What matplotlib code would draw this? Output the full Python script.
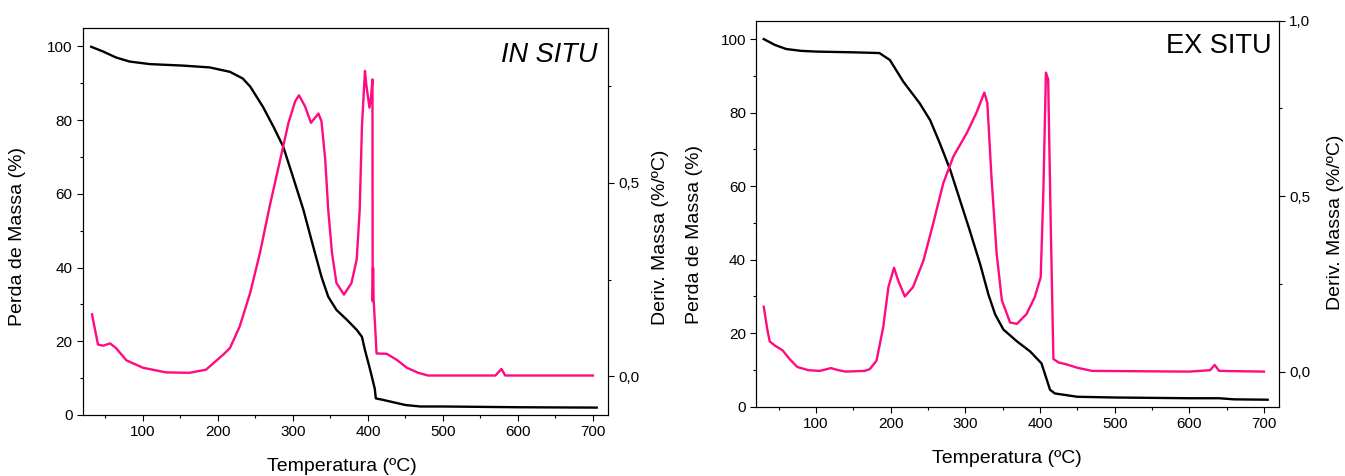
import matplotlib
matplotlib.use("Agg")
import matplotlib.pyplot as plt
from matplotlib.ticker import MultipleLocator, FuncFormatter

plt.rcParams['font.family'] = ['Liberation Sans', 'DejaVu Sans']

PINK = "#ff0a80"

# ---- IN SITU ----
in_tg_t = [31, 47, 64, 82, 109, 153, 189, 216, 233, 243, 260, 274, 287, 300, 314, 327,
           338, 347, 358, 372, 385, 392, 396, 403, 409, 410.5, 420, 450, 470, 500, 600, 705]
in_tg_m = [99.9, 98.6, 97.0, 95.9, 95.2, 94.8, 94.3, 93.1, 91.3, 89.1, 83.6, 78.2, 72.8,
           64.6, 55.6, 45.7, 37.5, 32.1, 28.5, 25.8, 23.1, 21.2, 17.6, 12.2, 7.2, 4.5,
           4.1, 2.7, 2.3, 2.3, 2.1, 2.0]

in_dtg_t = [32, 36, 40, 47, 56, 64, 78, 100, 131, 162, 184, 207, 216, 229, 243, 256, 269,
            283, 294, 303, 308, 316, 324, 334, 338, 343, 347, 352, 358, 368, 378, 385,
            389, 392, 396, 398, 402, 404, 406, 406.3, 406.8, 407.5, 411.5, 425, 438,
            452, 467, 480, 570, 578, 583, 700]
in_dtg_d = [0.160, 0.121, 0.082, 0.079, 0.085, 0.073, 0.041, 0.022, 0.010, 0.009, 0.017,
            0.056, 0.073, 0.129, 0.216, 0.319, 0.440, 0.560, 0.655, 0.711, 0.726, 0.698,
            0.655, 0.679, 0.659, 0.560, 0.431, 0.319, 0.241, 0.211, 0.241, 0.302, 0.431,
            0.647, 0.789, 0.750, 0.694, 0.720, 0.767, 0.194, 0.28, 0.20, 0.059, 0.058,
            0.043, 0.022, 0.009, 0.002, 0.002, 0.019, 0.002, 0.002]

# ---- EX SITU ----
ex_tg_t = [30, 45, 60, 80, 100, 150, 185, 199, 217, 239, 253, 266, 280, 293, 306, 320,
           331, 340, 351, 369, 387, 402, 407, 413.5, 420, 450, 500, 600, 640, 660, 705]
ex_tg_m = [100, 98.4, 97.3, 96.8, 96.6, 96.4, 96.2, 94.3, 88.4, 82.5, 77.9, 71.6, 64.3,
           56.1, 47.9, 38.7, 30.5, 25.1, 21.0, 17.8, 15.0, 11.8, 8.7, 4.6, 3.6, 2.7,
           2.5, 2.3, 2.3, 2.0, 1.9]

ex_dtg_t = [30, 35, 38, 45, 55, 65, 75, 90, 105, 120, 130, 140, 165, 172, 181, 190, 197,
            204.5, 210, 219, 230, 244, 257, 270.5, 284, 302, 315, 325.5, 329.5, 335,
            342, 349, 360, 369, 382, 393, 401, 404.5, 408, 411, 414.5, 418, 425, 435,
            450, 470, 600, 628, 634, 640, 700]
ex_dtg_d = [0.185, 0.117, 0.086, 0.074, 0.061, 0.035, 0.013, 0.004, 0.002, 0.010, 0.004,
            0.0, 0.002, 0.007, 0.031, 0.126, 0.241, 0.296, 0.260, 0.214, 0.241, 0.317,
            0.422, 0.537, 0.613, 0.680, 0.738, 0.795, 0.766, 0.556, 0.336, 0.203, 0.140,
            0.136, 0.164, 0.212, 0.269, 0.508, 0.852, 0.833, 0.413, 0.036, 0.026, 0.021,
            0.011, 0.002, 0.0, 0.004, 0.019, 0.002, 0.0]


def comma(v, pos):
    return f"{v:.1f}".replace(".", ",")


def panel(rect, tg_t, tg_m, dtg_t, dtg_d, dlim, title, italic, labpos, title_pos):
    ax = fig.add_axes(rect)
    ax2 = ax.twinx()
    ax.plot(tg_t, tg_m, color="black", lw=1.7)
    ax2.plot(dtg_t, dtg_d, color=PINK, lw=1.7)
    ax.set_xlim(20, 720)
    ax.set_ylim(0, 105)
    ax2.set_ylim(*dlim)
    ax.xaxis.set_major_locator(MultipleLocator(100))
    ax.xaxis.set_minor_locator(MultipleLocator(50))
    ax.yaxis.set_major_locator(MultipleLocator(20))
    ax.yaxis.set_minor_locator(MultipleLocator(10))
    ax2.yaxis.set_major_locator(MultipleLocator(0.5))
    ax2.yaxis.set_minor_locator(MultipleLocator(0.25))
    ax2.yaxis.set_major_formatter(FuncFormatter(comma))
    ax.set_xticks([100, 200, 300, 400, 500, 600, 700])
    for a in (ax, ax2):
        a.tick_params(which="both", direction="out", labelsize=11, width=0.8, pad=3)
        a.tick_params(which="major", length=4.5)
        a.tick_params(which="minor", length=2.5)
        for s in a.spines.values():
            s.set_linewidth(0.8)
    ax.set_xlabel("Temperatura (ºC)", fontsize=14)
    ax.set_ylabel("Perda de Massa (%)", fontsize=14)
    ax2.set_ylabel("Deriv. Massa (%/ºC)", fontsize=14)
    ax.xaxis.set_label_coords(*labpos[0])
    ax.yaxis.set_label_coords(*labpos[1])
    ax2.yaxis.set_label_coords(*labpos[2])
    ax.text(title_pos[0], title_pos[1], title, transform=ax.transAxes, ha="right",
            va="baseline", fontsize=19.5, style="italic" if italic else "normal")


fig = plt.figure(figsize=(13.45, 4.76), dpi=100)
panel([0.0617, 0.1282, 0.3903, 0.8130], in_tg_t, in_tg_m, in_dtg_t, in_dtg_d,
      (-0.1, 0.9), "IN SITU", True,
      [(0.493, -0.111), (-0.109, 0.46), (1.084, 0.46)], (0.981, 0.912))
panel([0.5623, 0.1456, 0.3885, 0.8109], ex_tg_t, ex_tg_m, ex_dtg_t, ex_dtg_d,
      (-0.1, 1.0), "EX SITU", False,
      [(0.48, -0.112), (-0.102, 0.445), (1.092, 0.478)], (0.986, 0.9155))

fig.savefig("out.png", dpi=100)
